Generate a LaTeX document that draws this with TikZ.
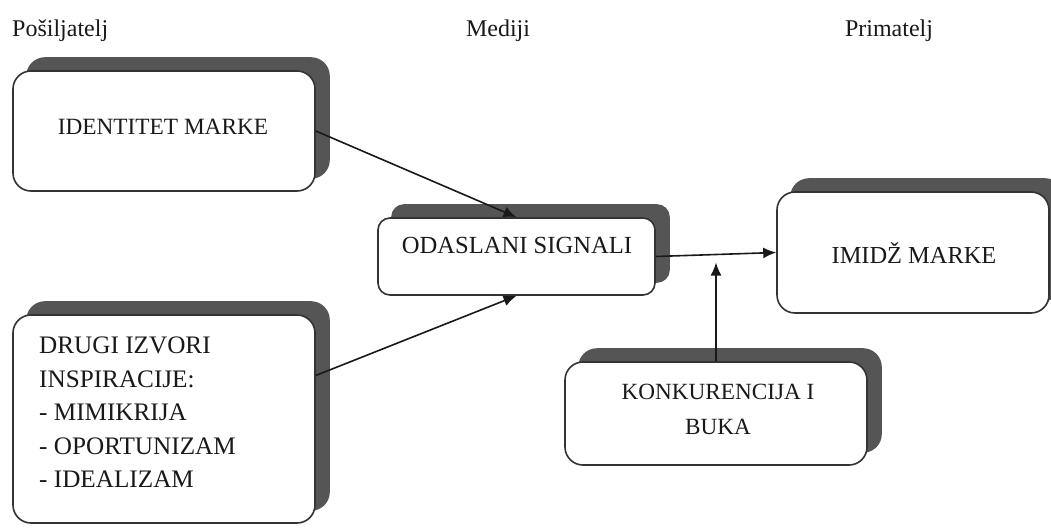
\documentclass[tikz,border=0pt]{standalone}
\usepackage{fontspec}
\setmainfont{Liberation Serif}
\usetikzlibrary{shadows,arrows.meta,calc}
\definecolor{shadowgray}{HTML}{555555}
\definecolor{linegray}{HTML}{333333}
\tikzset{
  box/.style={draw=linegray, line width=1.6pt, fill=white, rounded corners=18pt,
    general shadow={shadow xshift=14pt, shadow yshift=13pt, fill=shadowgray, draw=shadowgray}},
  sbox/.style={box, rounded corners=12pt},
  lbl/.style={inner sep=0pt, text=black!90},
  hdr/.style={inner sep=0pt, anchor=base, text=black!90, font=\fontsize{24}{28}\selectfont},
  arr/.style={line width=1.6pt, draw=black!90, -{Latex[length=13pt,width=11pt]}}
}
\begin{document}
\begin{tikzpicture}[x=1pt,y=-1pt]
\useasboundingbox[fill=white] (0,0) rectangle (1051,532);
% headers
\node[hdr, anchor=base west] (h1) at (12,37) {Pošiljatelj};
\node[hdr] (h2) at (498,37) {Mediji};
\node[hdr] (h3) at (889,37) {Primatelj};
% boxes
\node[box, minimum width=302pt, minimum height=120pt] (b1) at (164,131) {};
\node[sbox, minimum width=277pt, minimum height=77pt] (b2) at (516.5,256.5) {};
\node[box, minimum width=272pt, minimum height=121pt] (b3) at (913,252.5) {};
\node[box, minimum width=302pt, minimum height=208pt] (b4) at (164,419) {};
\node[box, minimum width=302pt, minimum height=103pt] (b5) at (716,413.5) {};
% labels
\node[lbl, font=\fontsize{23.3}{28}\selectfont] (t1) at (163,127) {IDENTITET MARKE};
\node[lbl, font=\fontsize{24.6}{28}\selectfont] (t2) at (517,245) {ODASLANI SIGNALI};
\node[lbl, font=\fontsize{24.4}{28}\selectfont] (t3) at (914,253) {IMIDŽ MARKE};
\node[lbl, font=\fontsize{25.2}{33.5}\selectfont, align=left, anchor=north west] (t4) at (39,337)
  {DRUGI IZVORI\\INSPIRACIJE:\\- MIMIKRIJA\\- OPORTUNIZAM\\- IDEALIZAM};
\node[lbl, font=\fontsize{23.2}{35}\selectfont, align=center] (t5) at (718,409) {KONKURENCIJA I\\BUKA};
% connectors
\coordinate (m) at ($(b2.east)!0.5!(b3.west)$);
\coordinate (kt) at ($(m)+(0,8)$);
\draw[arr] (b1.east) -- (b2.north);
\draw[arr] (b4.16) -- (b2.south);
\draw[arr] (b2.east) -- (b3.west);
\draw[arr] (b5.north) -- (kt);
\end{tikzpicture}
\end{document}
